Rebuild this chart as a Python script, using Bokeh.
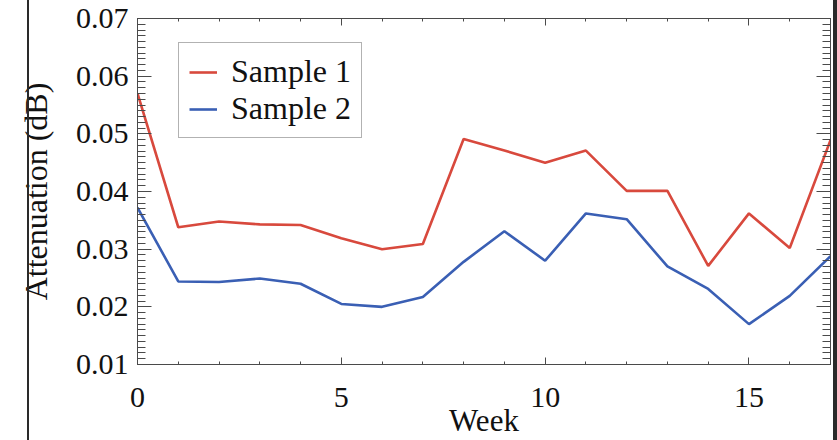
from bokeh.plotting import figure
from bokeh.models import (FixedTicker, LinearAxis, PrintfTickFormatter, Legend,
                          LegendItem, GlobalInlineStyleSheet, CustomJSTickFormatter)
from bokeh.embed import file_html
from bokeh.resources import INLINE

# ---- data ----
weeks = list(range(18))
sample1 = [0.0570, 0.0338, 0.0348, 0.0343, 0.0342, 0.0319, 0.0300, 0.0309, 0.0491,
           0.0471, 0.0450, 0.0471, 0.0401, 0.0401, 0.0271, 0.0362, 0.0302, 0.0489]
sample2 = [0.0372, 0.0244, 0.0243, 0.0249, 0.0240, 0.0205, 0.0200, 0.0217, 0.0278,
           0.0331, 0.0280, 0.0362, 0.0352, 0.0270, 0.0231, 0.0170, 0.0219, 0.0288]
series_names = ["Sample 1", "Sample 2"]
x_major_ticks = [0, 5, 10, 15]
x_minor_ticks = list(range(18))
y_major_ticks = [0.01, 0.02, 0.03, 0.04, 0.05, 0.06, 0.07]
y_minor_ticks = [round(0.01 + i * 0.001, 3) for i in range(61)]

RED = "#d8493d"
BLUE = "#3a5fb4"
FONT = "Liberation Serif"
AX = "#4a4a4a"

p = figure(width=837, height=440, x_range=(0, 17), y_range=(0.01, 0.07),
           output_backend="svg", toolbar_location=None,
           min_border_left=137, min_border_right=7, min_border_top=18,
           min_border_bottom=76,
           x_axis_label="Week", y_axis_label="Attenuation (dB)")
p.xgrid.visible = False
p.ygrid.visible = False
p.outline_line_color = AX
p.outline_line_width = 1
p.background_fill_color = "white"
p.border_fill_color = "white"


def style_x(ax, labels=True):
    ax.ticker = FixedTicker(ticks=x_major_ticks, minor_ticks=x_minor_ticks)
    ax.major_tick_in = 7
    ax.major_tick_out = 0
    ax.minor_tick_in = 3
    ax.minor_tick_out = 0
    ax.axis_line_color = AX
    ax.major_tick_line_color = AX
    ax.minor_tick_line_color = AX
    ax.major_label_text_font = FONT
    ax.major_label_text_color = "#111111"
    if labels:
        ax.major_label_text_font_size = "30px"
        ax.major_label_standoff = 23
    else:
        ax.formatter = CustomJSTickFormatter(code="return ''")
        ax.major_label_text_font_size = "1px"
        ax.major_label_standoff = 0


def style_y(ax, labels=True):
    ax.ticker = FixedTicker(ticks=y_major_ticks, minor_ticks=y_minor_ticks)
    ax.major_tick_in = 14
    ax.major_tick_out = 0
    ax.minor_tick_in = 8
    ax.minor_tick_out = 0
    ax.axis_line_color = AX
    ax.major_tick_line_color = AX
    ax.minor_tick_line_color = AX
    ax.major_label_text_font = FONT
    ax.major_label_text_color = "#111111"
    if labels:
        ax.formatter = PrintfTickFormatter(format="%.2f")
        ax.major_label_text_font_size = "30px"
        ax.major_label_standoff = 9
    else:
        ax.formatter = CustomJSTickFormatter(code="return ''")
        ax.major_label_text_font_size = "1px"
        ax.major_label_standoff = 0


xa = p.xaxis[0]
style_x(xa)
xa.axis_label_text_font = FONT
xa.axis_label_text_font_size = "31px"
xa.axis_label_text_font_style = "normal"
xa.axis_label_text_color = "#111111"
xa.axis_label_standoff = -7

ya = p.yaxis[0]
style_y(ya)
ya.axis_label_text_font = FONT
ya.axis_label_text_font_size = "32px"
ya.axis_label_text_font_style = "normal"
ya.axis_label_text_color = "#111111"
ya.axis_label_standoff = 19

top = LinearAxis()
style_x(top, labels=False)
p.add_layout(top, "above")
right = LinearAxis()
style_y(right, labels=False)
p.add_layout(right, "right")

r1 = p.line(weeks, sample1, line_color=RED, line_width=2.6)
r2 = p.line(weeks, sample2, line_color=BLUE, line_width=2.6)

legend = Legend(items=[LegendItem(label=series_names[0], renderers=[r1]),
                       LegendItem(label=series_names[1], renderers=[r2])],
                location=(41, 226))
legend.border_line_color = "#666666"
legend.border_line_width = 1
legend.background_fill_color = "white"
legend.background_fill_alpha = 1
legend.padding = 10
legend.spacing = 0
legend.margin = 0
legend.glyph_width = 28
legend.glyph_height = 28
legend.label_standoff = 14
legend.label_text_font = FONT
legend.label_text_font_size = "32px"
legend.label_text_color = "#111111"
legend.label_height = 28
p.add_layout(legend)

p.stylesheets = [GlobalInlineStyleSheet(css="""
body::before { content: ""; position: fixed; left: 27px; top: 0; width: 2px;
  height: 440px; background: #2a2a2a; z-index: 10; }
body::after { content: ""; position: fixed; left: 833px; top: 0; width: 4px;
  height: 440px; background: #2a2a2a; z-index: 10; }
""")]

open("out.html", "w").write(file_html(p, INLINE))
